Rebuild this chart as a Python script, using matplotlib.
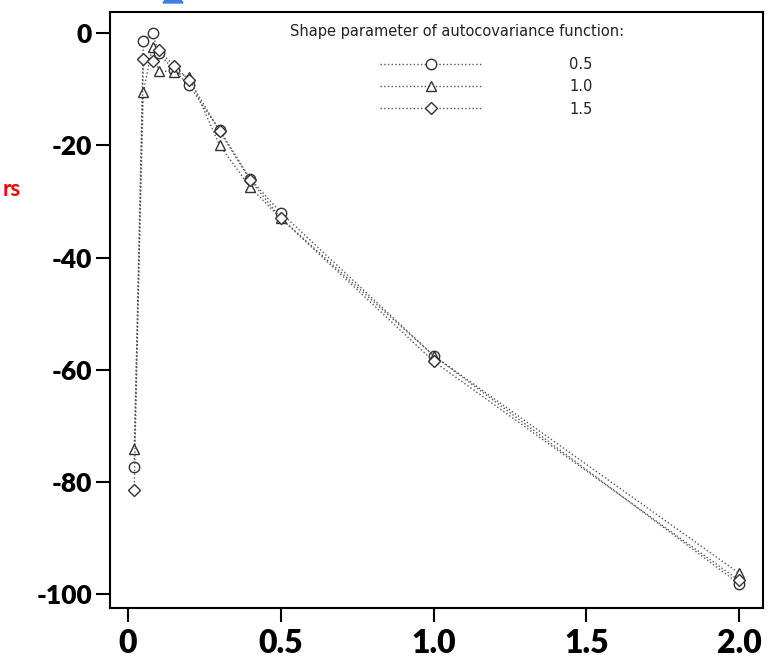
import matplotlib
matplotlib.use('Agg')
import matplotlib.pyplot as plt
from matplotlib.patches import Polygon

plt.rcParams['axes.unicode_minus'] = False

# lag values (x) and the three series for each shape parameter
x = [0.02, 0.05, 0.08, 0.1, 0.15, 0.2, 0.3, 0.4, 0.5, 1.0, 2.0]
y_05 = [-77.3, -1.4, 0.0, -3.5, -6.6, -9.3, -17.3, -26.0, -32.0, -57.5, -98.2]
y_10 = [-74.1, -10.5, -2.4, -6.7, -6.9, -7.8, -20.0, -27.5, -33.0, -57.5, -96.3]
y_15 = [-81.4, -4.6, -5.0, -3.0, -5.8, -8.3, -17.5, -26.2, -33.0, -58.5, -97.6]
labels = ['0.5', '1.0', '1.5']
markers = ['o', '^', 'D']
xticks = [0, 0.5, 1.0, 1.5, 2.0]
xticklabels = ['0', '0.5', '1.0', '1.5', '2.0']
yticks = [0, -20, -40, -60, -80, -100]

fig = plt.figure(figsize=(7.7, 6.63), dpi=100)
ax = fig.add_axes([0.1429, 0.083, 0.848, 0.899])

for ys, m, lab in zip([y_05, y_10, y_15], markers, labels):
    ax.plot(x, ys, linestyle=':', color='#555555', linewidth=1.0,
            marker=m, markersize=7.5 if m != 'D' else 6.5,
            markerfacecolor='white', markeredgecolor='#333333',
            markeredgewidth=1.0, label=lab)

ax.set_xlim(-0.059, 2.078)
ax.set_ylim(-102.5, 3.8)
ax.set_xticks(xticks)
ax.set_xticklabels(xticklabels)
ax.set_yticks(yticks)

for s in ax.spines.values():
    s.set_linewidth(1.5)
ax.tick_params(direction='out', length=10, width=1.5)
ax.tick_params(axis='y', pad=3)
ax.tick_params(axis='x', pad=5)
for t in ax.get_yticklabels():
    t.set_fontfamily('Lato')
    t.set_fontweight('heavy')
    t.set_fontsize(19)
for t in ax.get_xticklabels():
    t.set_fontfamily('Lato')
    t.set_fontweight('heavy')
    t.set_fontsize(23)

# legend title drawn separately so the entries can sit right of centre
ax.text(0.531, 0.968, 'Shape parameter of autocovariance function:',
        transform=ax.transAxes, ha='center', va='center',
        fontsize=10.5, color='#222222')
leg = ax.legend(loc='upper left', bbox_to_anchor=(0.413, 0.9245),
                borderaxespad=0, borderpad=0,
                frameon=False, fontsize=10.5,
                handlelength=7.0, handletextpad=6.0, labelspacing=0.5,
                numpoints=1)
for t in leg.get_texts():
    t.set_color('#222222')

# cropped annotation remnants at the figure edges
fig.text(0.027, 1 - 190 / 663, 'rs', color='red', fontweight='bold',
         fontsize=16, ha='right', va='center', fontfamily='Lato')
fig.patches.append(Polygon([[163 / 770, 1 - 3 / 663], [183 / 770, 1 - 3 / 663],
                            [173 / 770, 1 + 12 / 663]], closed=True,
                           transform=fig.transFigure, color='#3f7fe0',
                           clip_on=False))

fig.savefig('out.png', dpi=100)
